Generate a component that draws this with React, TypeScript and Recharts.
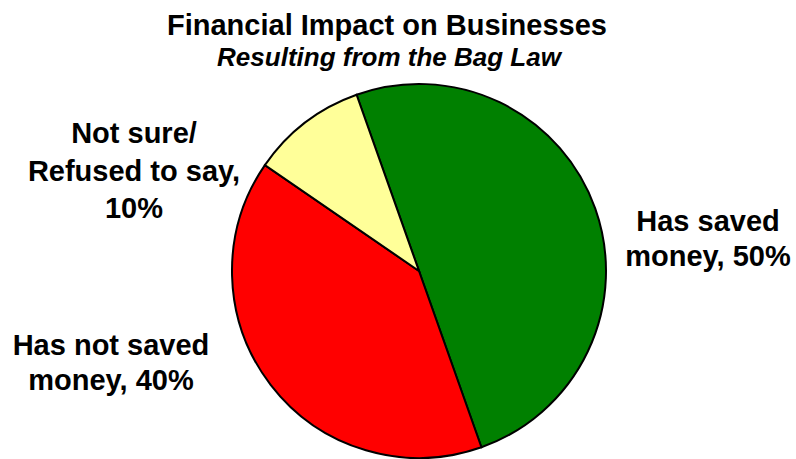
import { PieChart, Pie, Cell } from 'recharts'

const categories = ['Has saved money', 'Has not saved money', 'Not sure/ Refused to say']
const shares = [50, 40, 10]
const labelLines = [
  ['Has saved', 'money, 50%'],
  ['Has not saved', 'money, 40%'],
  ['Not sure/', 'Refused to say,', '10%'],
]
const colors = ['#008000', '#FF0000', '#FFFF99']

// where each label block sits, relative to the pie centre
const labelOffsets = [
  { dx: 289, dy: -40, gap: 35 },
  { dx: -308, dy: 84, gap: 35 },
  { dx: -285, dy: -128, gap: 37.5 },
]

const FONT = "Arial, 'Liberation Sans', sans-serif"

export default function App() {
  const data = categories.map((name, i) => ({ name, value: shares[i] }))

  const renderLabel = (props: any) => {
    const { cx, cy, index } = props
    const off = labelOffsets[index]
    return (
      <text
        x={cx + off.dx}
        y={cy + off.dy}
        textAnchor="middle"
        fontFamily={FONT}
        fontWeight="bold"
        fontSize={29}
        fill="#000"
      >
        {labelLines[index].map((line, j) => (
          <tspan key={j} x={cx + off.dx} dy={j === 0 ? 0 : off.gap}>
            {line}
          </tspan>
        ))}
      </text>
    )
  }

  return (
    <div style={{ position: 'relative', width: 796, height: 459 }}>
      <style>{'body{margin:0}'}</style>
      <PieChart width={796} height={459} margin={{ top: 0, right: 0, bottom: 0, left: 0 }}>
        <Pie
          data={data}
          dataKey="value"
          nameKey="name"
          cx={419}
          cy={271}
          outerRadius={187}
          startAngle={109.5}
          endAngle={-250.5}
          stroke="#000"
          strokeWidth={2}
          label={renderLabel}
          labelLine={false}
          isAnimationActive={false}
        >
          {data.map((d, i) => (
            <Cell key={d.name} fill={colors[i]} />
          ))}
        </Pie>
      </PieChart>
      <svg
        width={796}
        height={80}
        style={{ position: 'absolute', left: 0, top: 0, pointerEvents: 'none' }}
      >
        <text x={387} y={35} textAnchor="middle" fontFamily={FONT} fontWeight="bold" fontSize={29}>
          Financial Impact on Businesses
        </text>
        <text
          x={389}
          y={66}
          textAnchor="middle"
          fontFamily={FONT}
          fontWeight="bold"
          fontStyle="italic"
          fontSize={26}
        >
          Resulting from the Bag Law
        </text>
      </svg>
    </div>
  )
}
